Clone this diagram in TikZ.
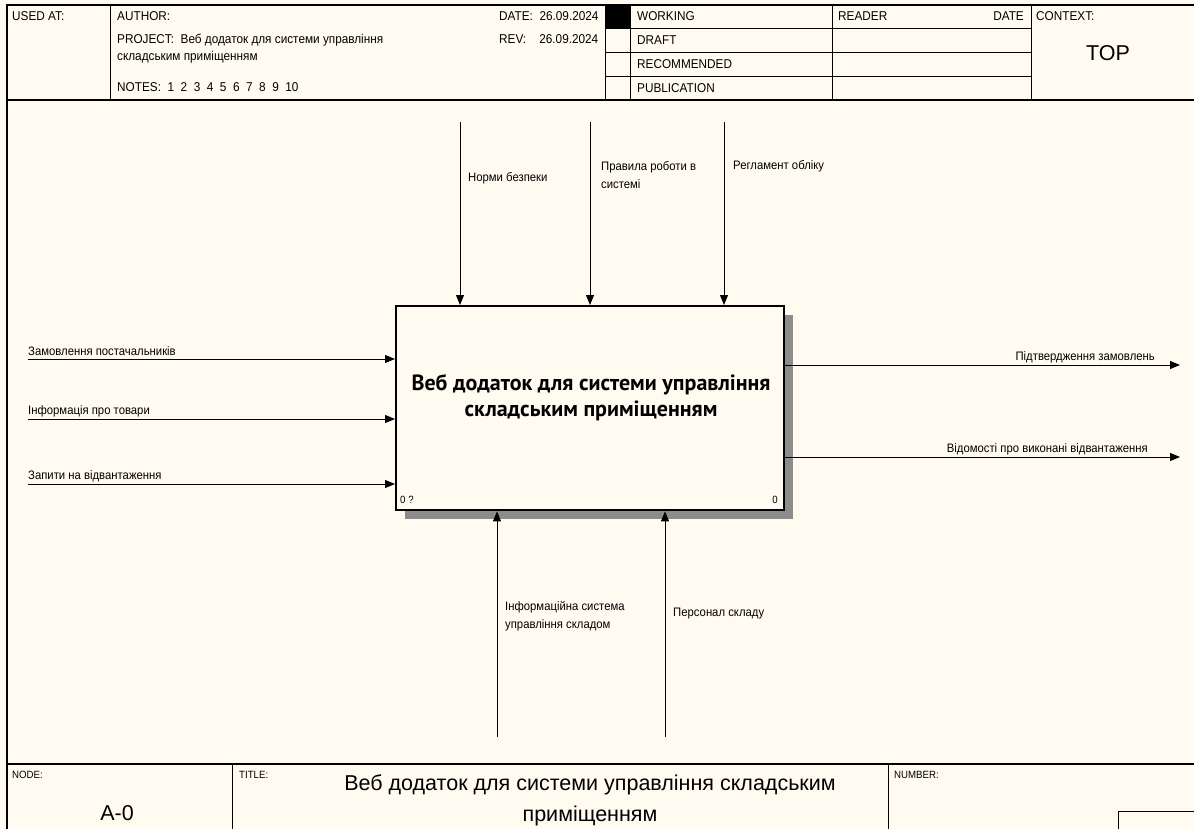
\documentclass[tikz,border=0pt]{standalone}
\usepackage{fontspec}
\setmainfont{Liberation Sans}
\newfontfamily\boxfont{PT Sans}
\newfontfamily\tallfont[FakeStretch=0.92]{Liberation Sans}
\usetikzlibrary{arrows.meta,patterns}
\definecolor{paper}{RGB}{255,251,241}
\tikzset{
  frame/.style={line width=1.3pt},
  cell/.style={line width=1pt},
  hdr/.style={anchor=base west, inner sep=0pt, font=\tallfont\fontsize{12.8}{14}\selectfont},
  small/.style={anchor=base west, inner sep=0pt, font=\tallfont\fontsize{10.5}{12}\selectfont},
  lbl/.style={anchor=base west, inner sep=0pt, font=\tallfont\fontsize{12.3}{13}\selectfont},
  lblr/.style={lbl, anchor=base east},
  big/.style={anchor=base, inner sep=0pt, font=\fontsize{21.5}{24}\selectfont},
  arr/.style={line width=1pt, -{Triangle[length=10pt,width=8pt]}},
  fnbox/.style={draw, line width=2.4pt, fill=paper, minimum width=388pt, minimum height=204pt, anchor=north west, inner sep=0pt},
  shade/.style={pattern=crosshatch dots, pattern color=black, fill=black!45}
}
\begin{document}
\begin{tikzpicture}[x=1pt,y=-1pt]
\useasboundingbox (0,0) rectangle (1194,829);
\fill[paper] (0,0) rectangle (1194,829);

% outer frame and header / footer rules
\draw[frame] (1194,5) -- (7,5) -- (7,829);
\draw[frame] (7,100) -- (1194,100);
\draw[frame] (7,764) -- (1194,764);
\draw[cell] (110,5) -- (110,100);
\draw[cell] (605,5) -- (605,100);
\draw[cell] (630,5) -- (630,100);
\draw[cell] (832,5) -- (832,100);
\draw[cell] (1031,5) -- (1031,100);
\foreach \yy in {29,53,77} \draw[cell] (605,\yy) -- (1031,\yy);
\fill[black] (605,5) rectangle (630,29);
\draw[cell] (232,764) -- (232,829);
\draw[cell] (888,764) -- (888,829);
\draw[cell] (1118,829) -- (1118,811) -- (1194,811);

% header texts
\node[hdr] (usedat) at (12,21) {USED AT:};
\node[hdr] (author) at (117,21) {AUTHOR:};
\node[hdr] (project) at (117,44) {PROJECT:\ \ Веб додаток для системи управління};
\node[hdr] (project2) at (117,61) {складським приміщенням};
\node[hdr] (notes) at (117,92) {NOTES:\ \ 1\ \ 2\ \ 3\ \ 4\ \ 5\ \ 6\ \ 7\ \ 8\ \ 9\ \ 10};
\node[hdr] (date) at (499,21) {DATE:\ \ 26.09.2024};
\node[hdr] (rev) at (499,44) {REV:\ \ \ \ 26.09.2024};
\node[hdr] (working) at (637,21) {WORKING};
\node[hdr] (draft) at (637,45) {DRAFT};
\node[hdr] (recommended) at (637,69) {RECOMMENDED};
\node[hdr] (publication) at (637,93) {PUBLICATION};
\node[hdr] (reader) at (838,21) {READER};
\node[hdr, anchor=base east] (rdate) at (1024,21) {DATE};
\node[hdr] (context) at (1036,21) {CONTEXT:};
\node[big] (top) at (1108,61) {TOP};

% footer texts
\node[small] (nodelbl) at (12,778) {NODE:};
\node[big] (nodenum) at (117,820) {A-0};
\node[small] (titlelbl) at (239,778) {TITLE:};
\node[big] (title1) at (590,790) {Веб додаток для системи управління складським};
\node[big] (title2) at (590,821) {приміщенням};
\node[small] (numberlbl) at (894,778) {NUMBER:};

% activity box with its shadow
\fill[shade] (405,315) rectangle (793,519);
\node[fnbox] (fn) at (395,305) {};
\node[align=center, inner sep=0pt, font=\boxfont\bfseries\fontsize{22}{26}\selectfont] (fntext) at (591,398)
  {Веб додаток для системи управління\\складським приміщенням};
\node[small] (fnq) at (400,503) {0 ?};
\node[small, anchor=base east] (fnnum) at (778,503) {0};

% inputs
\coordinate (in1) at (28,359);
\coordinate (in2) at (28,419);
\coordinate (in3) at (28,484);
\draw[arr] (in1) -- (in1 -| fn.west);
\draw[arr] (in2) -- (in2 -| fn.west);
\draw[arr] (in3) -- (in3 -| fn.west);
\node[lbl] (in1t) at (28,355) {Замовлення постачальників};
\node[lbl] (in2t) at (28,414) {Інформація про товари};
\node[lbl] (in3t) at (28,479) {Запити на відвантаження};

% outputs
\coordinate (out1) at (1180,365);
\coordinate (out2) at (1180,457);
\draw[arr] (out1 -| fn.east) -- (out1);
\draw[arr] (out2 -| fn.east) -- (out2);
\node[lblr] (out1t) at (1155,360) {Підтвердження замовлень};
\node[lblr] (out2t) at (1148,452) {Відомості про виконані відвантаження};

% controls
\coordinate (c1) at (460,122);
\coordinate (c2) at (590,122);
\coordinate (c3) at (724,122);
\draw[arr] (c1) -- (c1 |- fn.north);
\draw[arr] (c2) -- (c2 |- fn.north);
\draw[arr] (c3) -- (c3 |- fn.north);
\node[lbl] (c1t) at (468,182) {Норми безпеки};
\node[lbl] (c2t) at (601,171) {Правила роботи в};
\node[lbl] (c2t2) at (601,189) {системі};
\node[lbl] (c3t) at (733,170) {Регламент обліку};

% mechanisms
\coordinate (m1) at (497,737);
\coordinate (m2) at (665,737);
\draw[arr] (m1) -- (m1 |- fn.south);
\draw[arr] (m2) -- (m2 |- fn.south);
\node[lbl] (m1t) at (505,610) {Інформаційна система};
\node[lbl] (m1t2) at (505,628) {управління складом};
\node[lbl] (m2t) at (673,616) {Персонал складу};
\end{tikzpicture}
\end{document}
